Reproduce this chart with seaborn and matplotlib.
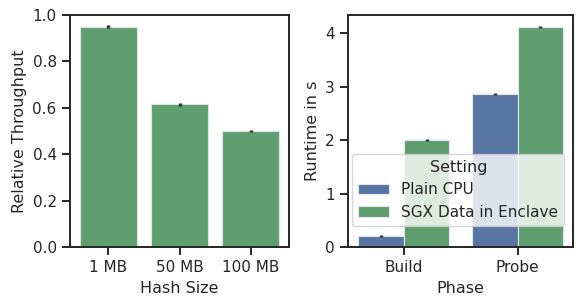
import matplotlib
matplotlib.use("Agg")
import matplotlib.pyplot as plt
import seaborn as sns
import pandas as pd
import numpy as np

# Left panel data
hash_sizes = ["1 MB", "50 MB", "100 MB"]
rel_throughput = [0.950, 0.615, 0.500]
rel_err = [0.006, 0.007, 0.005]

# Right panel data
phases = ["Build", "Build", "Probe", "Probe"]
settings = ["Plain CPU", "SGX Data in Enclave", "Plain CPU", "SGX Data in Enclave"]
runtimes = [0.21, 2.01, 2.86, 4.11]
runtime_err = [0.02, 0.02, 0.02, 0.02]

sns.set_theme(style="ticks", palette="deep", font_scale=1.0)
plt.rcParams['font.family'] = ['DejaVu Sans']
plt.rcParams['axes.linewidth'] = 1.4
plt.rcParams['xtick.major.width'] = 1.4
plt.rcParams['ytick.major.width'] = 1.4
plt.rcParams['xtick.major.size'] = 6
plt.rcParams['ytick.major.size'] = 6

fs = 11.5
fig = plt.figure(figsize=(5.82, 3.07), dpi=100)
ax1 = fig.add_axes([0.12, 0.195, 0.377, 0.756])
ax2 = fig.add_axes([0.598, 0.195, 0.387, 0.756])

deep = sns.color_palette("deep")

df1 = pd.DataFrame({"Hash Size": hash_sizes, "Relative Throughput": rel_throughput})
sns.barplot(data=df1, x="Hash Size", y="Relative Throughput", color=deep[2],
            errorbar=None, ax=ax1, edgecolor="#d8e8dc", linewidth=0.8)
for p, v, e in zip(ax1.patches, rel_throughput, rel_err):
    ax1.errorbar(p.get_x() + p.get_width() / 2, v, yerr=e, fmt='none',
                 ecolor="#333333", elinewidth=2.5, capsize=0)
ax1.set_ylim(0, 1.0)
ax1.set_yticks([0, 0.2, 0.4, 0.6, 0.8, 1.0])
ax1.set_xlabel("Hash Size", fontsize=fs)
ax1.set_ylabel("Relative Throughput", fontsize=fs)
ax1.tick_params(labelsize=fs - 0.5)

df2 = pd.DataFrame({"Phase": phases, "Setting": settings, "Runtime in s": runtimes})
sns.barplot(data=df2, x="Phase", y="Runtime in s", hue="Setting",
            palette=[deep[0], deep[2]], errorbar=None, ax=ax2,
            edgecolor="#e0e6ee", linewidth=0.8)
bars = [p for p in ax2.patches if p.get_height() > 0]
# map bars to data order
order = []
for s in ["Plain CPU", "SGX Data in Enclave"]:
    for ph in ["Build", "Probe"]:
        idx = [i for i in range(len(phases)) if phases[i] == ph and settings[i] == s][0]
        order.append(idx)
for p, idx in zip(bars, order):
    ax2.errorbar(p.get_x() + p.get_width() / 2, runtimes[idx], yerr=runtime_err[idx],
                 fmt='none', ecolor="#333333", elinewidth=2.5, capsize=0)
ax2.set_ylim(0, 4.34)
ax2.set_yticks([0, 1, 2, 3, 4])
ax2.set_xlabel("Phase", fontsize=fs)
ax2.set_ylabel("Runtime in s", fontsize=fs)
ax2.tick_params(labelsize=fs - 0.5)
leg = ax2.legend(title="Setting", loc="lower right", bbox_to_anchor=(0.96, 0.09),
                 borderaxespad=0, fontsize=fs - 0.5, title_fontsize=fs)

fig.savefig("out.png", dpi=100)
